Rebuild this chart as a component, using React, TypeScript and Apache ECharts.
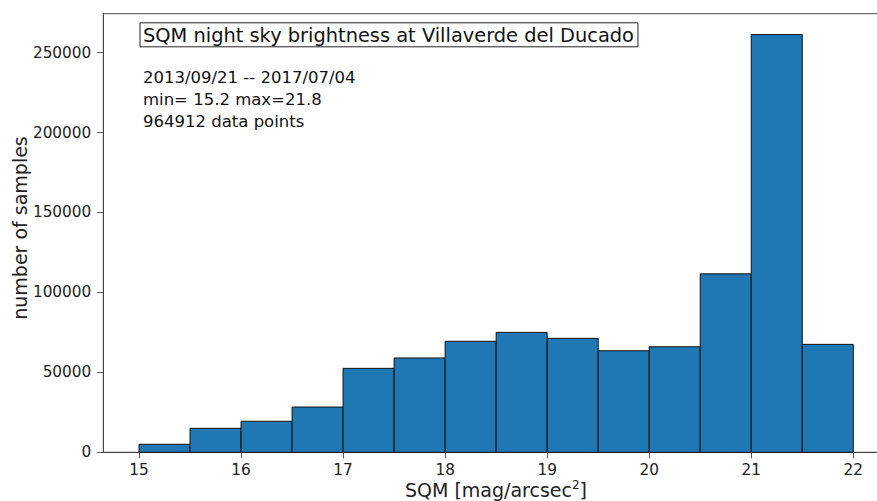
import React, { useEffect, useRef } from "react";
import * as echarts from "echarts";

const binStarts = [15, 15.5, 16, 16.5, 17, 17.5, 18, 18.5, 19, 19.5, 20, 20.5, 21, 21.5];
const binWidth = 0.5;
const counts = [5000, 15000, 19400, 28300, 52500, 59000, 69400, 75000, 71250, 63500, 66000, 111600, 261250, 67500];
const xTicks = [15, 16, 17, 18, 19, 20, 21, 22];
const titleText = "SQM night sky brightness at Villaverde del Ducado";
const infoLines = ["2013/09/21 -- 2017/07/04", "min= 15.2 max=21.8", "964912 data points"];
const xName = "SQM [mag/arcsec{sup|2}]";
const yName = "number of samples";

const FONT = "DejaVu Sans";

export default function App() {
  const ref = useRef<HTMLDivElement>(null);
  useEffect(() => {
    if (!ref.current) return;
    const chart = echarts.init(ref.current, null, { renderer: "svg" });
    const data = binStarts.map((s, i) => [s, s + binWidth, counts[i]]);
    chart.setOption({
      animation: false,
      textStyle: { fontFamily: FONT },
      grid: {
        left: 103.3,
        top: 13.7,
        right: -12,
        bottom: 48.7,
        containLabel: false,
        outerBoundsMode: "none",
        show: true,
        borderColor: "#444",
        borderWidth: 1,
        backgroundColor: "transparent",
      },
      xAxis: {
        type: "value",
        min: 14.65,
        max: 22.35,
        splitLine: { show: false },
        axisLine: { show: true, onZero: false, lineStyle: { color: "#444", width: 1 } },
        axisTick: { show: true, length: 6, customValues: xTicks, lineStyle: { color: "#555" } },
        axisLabel: {
          customValues: xTicks,
          color: "#222",
          fontSize: 15.3,
          fontFamily: FONT,
          margin: 10,
        },
      },
      yAxis: {
        type: "value",
        min: 0,
        max: 274300,
        interval: 50000,
        splitLine: { show: false },
        axisLine: { show: true, lineStyle: { color: "#444", width: 1 } },
        axisTick: { show: true, length: 6, lineStyle: { color: "#555" } },
        axisLabel: {
          color: "#222",
          fontSize: 15.3,
          fontFamily: FONT,
          margin: 12,
          showMaxLabel: false,
          formatter: (v: number) => String(v),
        },
      },
      series: [
        {
          type: "custom",
          data,
          encode: { x: [0, 1], y: 2 },
          renderItem: (params: any, api: any) => {
            const x0 = api.value(0);
            const x1 = api.value(1);
            const y = api.value(2);
            const p0 = api.coord([x0, y]);
            const p1 = api.coord([x1, 0]);
            return {
              type: "rect",
              shape: { x: p0[0], y: p0[1], width: p1[0] - p0[0], height: p1[1] - p0[1] },
              style: { fill: "#1f77b4", stroke: "#111", lineWidth: 1 },
            };
          },
        },
      ],
      graphic: [
        {
          type: "text",
          left: 139.5,
          top: 22.3,
          style: {
            text: titleText,
            fontSize: 19.4,
            fontFamily: FONT,
            fill: "#111",
            borderColor: "#222",
            borderWidth: 1,
            padding: [3, 4, 2, 3],
          },
        },
        {
          type: "text",
          left: 143,
          top: 66,
          style: {
            text: infoLines.join("\n"),
            fontSize: 16.5,
            lineHeight: 22,
            fontFamily: FONT,
            fill: "#111",
          },
        },
        {
          type: "text",
          x: 496,
          y: 489.5,
          style: {
            text: xName,
            fontSize: 19,
            fontFamily: FONT,
            fill: "#222",
            align: "center",
            verticalAlign: "middle",
            rich: {
              sup: { fontSize: 12, verticalAlign: "top", padding: [0, 0, 10, 0], fill: "#222", fontFamily: FONT },
            },
          },
        },
        {
          type: "text",
          x: 20,
          y: 228,
          rotation: Math.PI / 2,
          style: {
            text: yName,
            fontSize: 19,
            fontFamily: FONT,
            fill: "#222",
            align: "center",
            verticalAlign: "middle",
          },
        },
      ],
    });
    return () => chart.dispose();
  }, []);
  return <div ref={ref} style={{ width: 877, height: 501, position: "absolute", left: 0, top: 0, overflow: "hidden" }} />;
}
